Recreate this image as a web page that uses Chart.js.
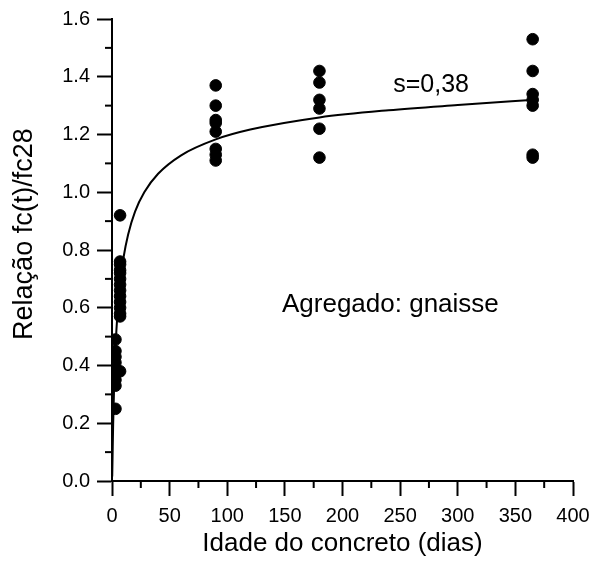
<!DOCTYPE html>
<html>
<head>
<meta charset="utf-8">
<script src="https://cdn.jsdelivr.net/npm/chart.js@4/dist/chart.umd.min.js"></script>
<style>
  body { margin: 0; background: #fff; }
</style>
</head>
<body>
<canvas id="chart" width="593" height="561"></canvas>
<script>
// ages of the tested specimens (days)
const ages = [3, 7, 90, 180, 365];

// measured fc(t)/fc28 per age
const ratios3 = [0.49, 0.45, 0.43, 0.41, 0.38, 0.37, 0.35, 0.33, 0.25];
const ratios7 = [0.92, 0.76, 0.75, 0.73, 0.72, 0.70, 0.68, 0.66, 0.64, 0.62, 0.60, 0.58, 0.57, 0.38];
const ratios90 = [1.37, 1.30, 1.25, 1.24, 1.21, 1.15, 1.13, 1.11];
const ratios180 = [1.42, 1.38, 1.32, 1.29, 1.22, 1.12];
const ratios365 = [1.53, 1.42, 1.34, 1.32, 1.30, 1.13, 1.12];

// fitted curve (s=0,38)
const curveDays = [0.2, 0.5, 1, 2, 3, 5, 7, 10, 14, 20, 28, 40, 60, 90, 120, 180, 240, 300, 370];
const curveRatios = [0.016, 0.085, 0.196, 0.353, 0.458, 0.595, 0.684, 0.774, 0.854, 0.933, 1.000, 1.064, 1.128, 1.183, 1.217, 1.259, 1.284, 1.302, 1.321];

const xTicks = [0, 50, 100, 150, 200, 250, 300, 350, 400];
const yTicks = [0.0, 0.2, 0.4, 0.6, 0.8, 1.0, 1.2, 1.4, 1.6];

const FONT = '"Liberation Sans", Arial, sans-serif';

const groups = [ratios3, ratios7, ratios90, ratios180, ratios365];
const measured = [];
groups.forEach((vals, i) => vals.forEach(v => measured.push({ x: ages[i], y: v })));
const curve = curveDays.map((d, i) => ({ x: d, y: curveRatios[i] }));

// minor ticks, y title and text labels
const extras = {
    id: 'extras',
    afterDraw(chart) {
        const ctx = chart.ctx;
        const xs = chart.scales.x, ys = chart.scales.y;
        ctx.save();
        ctx.strokeStyle = '#000';
        ctx.lineWidth = 2;
        for (let i = 0; i < xTicks.length - 1; i++) {
            const px = xs.getPixelForValue((xTicks[i] + xTicks[i + 1]) / 2);
            ctx.beginPath();
            ctx.moveTo(px, ys.bottom);
            ctx.lineTo(px, ys.bottom + 7);
            ctx.stroke();
        }
        for (let i = 0; i < yTicks.length - 1; i++) {
            const py = ys.getPixelForValue((yTicks[i] + yTicks[i + 1]) / 2);
            ctx.beginPath();
            ctx.moveTo(xs.left, py);
            ctx.lineTo(xs.left - 7, py);
            ctx.stroke();
        }
        ctx.fillStyle = '#000';
        ctx.textAlign = 'left';
        ctx.textBaseline = 'alphabetic';
        ctx.font = '25px ' + FONT;
        ctx.fillText('s=0,38', xs.getPixelForValue(244), ys.getPixelForValue(1.347));
        ctx.font = '26px ' + FONT;
        ctx.fillText('Agregado: gnaisse', xs.getPixelForValue(147.5), ys.getPixelForValue(0.585));

        // y axis title
        ctx.font = '27px ' + FONT;
        ctx.textAlign = 'center';
        ctx.textBaseline = 'middle';
        ctx.translate(25, ys.getPixelForValue(0.855));
        ctx.rotate(-Math.PI / 2);
        ctx.fillText('Relação fc(t)/fc28', 0, 0);
        ctx.restore();
    }
};

new Chart(document.getElementById('chart'), {
    type: 'scatter',
    data: {
        datasets: [
            {
                label: 'medido',
                data: measured,
                backgroundColor: '#000',
                borderColor: '#000',
                pointRadius: 5.8,
                pointHoverRadius: 5.8
            },
            {
                type: 'line',
                label: 'curva',
                data: curve,
                borderColor: '#000',
                borderWidth: 2,
                pointRadius: 0,
                fill: false,
                cubicInterpolationMode: 'monotone'
            }
        ]
    },
    options: {
        responsive: false,
        animation: false,
        layout: { padding: { top: 19, right: 20, bottom: 0, left: 0 } },
        plugins: {
            legend: { display: false },
            tooltip: { enabled: false }
        },
        scales: {
            x: {
                type: 'linear',
                min: 0,
                max: 400,
                afterFit: s => { s.height = 80; s.paddingLeft = 0; s.paddingRight = 0; },
                afterBuildTicks: s => { s.ticks = xTicks.map(v => ({ value: v })); },
                border: { color: '#000', width: 2 },
                grid: { drawOnChartArea: false, tickLength: 15, tickColor: '#000', tickWidth: 2 },
                ticks: { color: '#000', font: { family: FONT, size: 20 }, padding: 8, maxRotation: 0 },
                title: {
                    display: true,
                    text: 'Idade do concreto (dias)',
                    color: '#000',
                    font: { family: FONT, size: 26 },
                    padding: { top: 0, bottom: 2 }
                }
            },
            y: {
                min: 0,
                max: 1.6,
                afterFit: s => { s.width = 112; s.paddingTop = 0; s.paddingBottom = 0; },
                afterBuildTicks: s => { s.ticks = yTicks.map(v => ({ value: v })); },
                border: { color: '#000', width: 2 },
                grid: { drawOnChartArea: false, tickLength: 15, tickColor: '#000', tickWidth: 2 },
                ticks: {
                    color: '#000',
                    font: { family: FONT, size: 20 },
                    padding: 7,
                    callback: v => v.toFixed(1)
                }
            }
        }
    },
    plugins: [extras]
});
</script>
</body>
</html>
